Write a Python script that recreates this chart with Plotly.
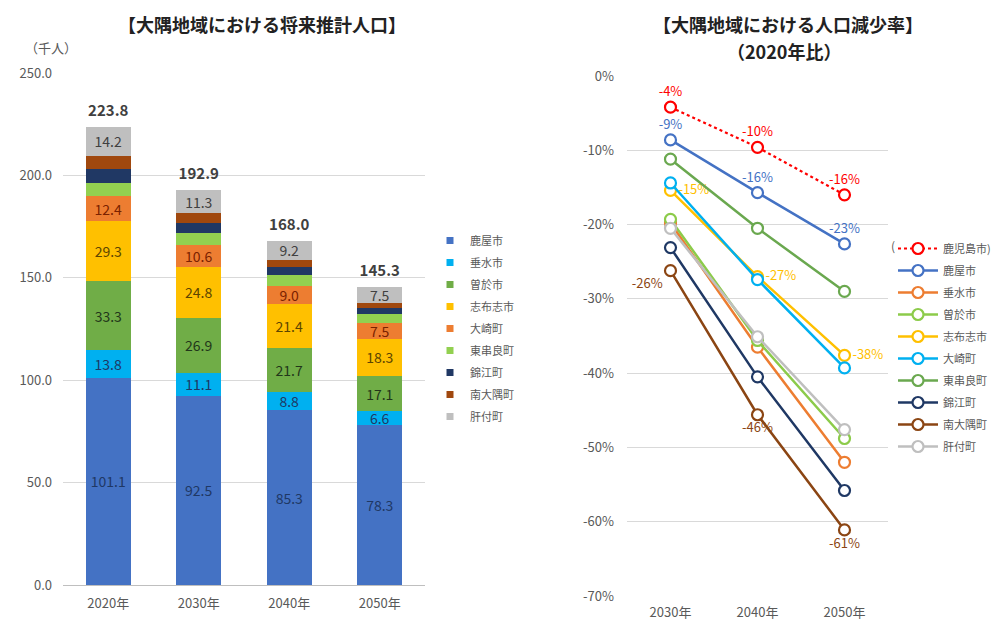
import plotly.graph_objects as go

W, H = 1007, 620
OFF = 8                      # default page margin around the plot div
FW, FH = W - OFF, H - OFF
FONT = "Noto Sans CJK JP"
GRID = "#d9d9d9"
TICK = "#595959"

# left chart: projected population (thousand persons)
years = ["2020年", "2030年", "2040年", "2050年"]
towns = ["鹿屋市", "垂水市", "曽於市", "志布志市", "大崎町", "東串良町", "錦江町", "南大隅町", "肝付町"]
kanoya = [101.1, 92.5, 85.3, 78.3]
tarumizu = [13.8, 11.1, 8.8, 6.6]
soo = [33.3, 26.9, 21.7, 17.1]
shibushi = [29.3, 24.8, 21.4, 18.3]
osaki = [12.4, 10.6, 9.0, 7.5]
higashikushira = [6.5, 5.8, 5.2, 4.5]
kinko = [6.8, 5.2, 3.9, 3.0]
minamiosumi = [6.4, 4.7, 3.5, 2.5]
kimotsuki = [14.2, 11.3, 9.2, 7.5]
totals = [223.8, 192.9, 168.0, 145.3]
y_ticks = [0, 50, 100, 150, 200, 250]

# right chart: decline rate vs 2020 (%)
rate_years = ["2030年", "2040年", "2050年"]
rate_names = ["鹿児島市", "鹿屋市", "垂水市", "曽於市", "志布志市", "大崎町", "東串良町", "錦江町", "南大隅町", "肝付町"]
r_kagoshima = [-4.2, -9.6, -16.0]
r_kanoya = [-8.6, -15.7, -22.6]
r_tarumizu = [-19.8, -36.5, -52.0]
r_soo = [-19.3, -35.6, -48.8]
r_shibushi = [-15.4, -27.0, -37.6]
r_osaki = [-14.4, -27.4, -39.3]
r_higashikushira = [-11.2, -20.5, -29.0]
r_kinko = [-23.1, -40.5, -55.8]
r_minamiosumi = [-26.2, -45.6, -61.1]
r_kimotsuki = [-20.5, -35.1, -47.6]
rate_ticks = [0, -10, -20, -30, -40, -50, -60, -70]

bar_series = [kanoya, tarumizu, soo, shibushi, osaki, higashikushira, kinko, minamiosumi, kimotsuki]
bar_colors = ["#4472C4", "#00B0F0", "#70AD47", "#FFC000", "#ED7D31", "#92D050", "#203864", "#A0480E", "#BFBFBF"]
label_colors = ["#1F3864", "#1F3864", "#22361a", "#5c4500", "#7a2200", None, None, None, "#404040"]

rate_series = [r_kagoshima, r_kanoya, r_tarumizu, r_soo, r_shibushi, r_osaki,
               r_higashikushira, r_kinko, r_minamiosumi, r_kimotsuki]
line_colors = ["#FF0000", "#4472C4", "#ED7D31", "#8CCB4A", "#FFC000", "#00B0F0",
               "#6AA84F", "#1F3864", "#8B4513", "#BFBFBF"]


def px_x(p):
    return (p - OFF) / FW


def px_y(p):
    return 1 - (p - OFF) / FH


fig = go.Figure()

for name, vals, col, lc in zip(towns, bar_series, bar_colors, label_colors):
    fig.add_trace(go.Bar(
        x=years, y=vals, marker=dict(color=col, line=dict(width=0)),
        text=[f"{v:.1f}" for v in vals] if lc else None,
        textposition="inside" if lc else "none", insidetextanchor="middle",
        textangle=0, textfont=dict(color=lc or "#000", size=14, family=FONT),
        showlegend=False, hoverinfo="skip", xaxis="x", yaxis="y"))
    # small square legend key
    fig.add_trace(go.Scatter(
        x=[None], y=[None], mode="markers", name=name, legend="legend", legendgroup=name,
        marker=dict(symbol="square", size=7, color=col), xaxis="x", yaxis="y"))

# totals above the stacks (invisible marker just lifts the text a little)
fig.add_trace(go.Scatter(
    x=years, y=totals, mode="markers+text", text=[f"{t:.1f}" for t in totals],
    marker=dict(size=10, color="rgba(0,0,0,0)"),
    textposition="top center", textfont=dict(size=15, color="#404040", family=FONT, weight="bold"),
    showlegend=False, hoverinfo="skip", xaxis="x", yaxis="y", cliponaxis=False))

# label positions for the right chart
label_pos = {
    "鹿児島市": ["top center"] * 3,
    "鹿屋市": ["top center"] * 3,
    "志布志市": ["middle right"] * 3,
    "南大隅町": ["bottom left", "bottom center", "bottom center"],
}

for name, vals, col in zip(rate_names, rate_series, line_colors):
    pos = label_pos.get(name)
    shown = name + ")" if name == "鹿児島市" else name
    fig.add_trace(go.Scatter(
        x=rate_years, y=vals, mode="lines+markers+text" if pos else "lines+markers",
        name=shown, legend="legend2", legendgroup="r" + name,
        line=dict(color=col, width=2.5 if name != "鹿児島市" else 2.2,
                  dash="dot" if name == "鹿児島市" else "solid"),
        marker=dict(symbol="circle", size=11, color="white", line=dict(color=col, width=2.2)),
        text=[f"{round(v)}%" for v in vals] if pos else None,
        textposition=pos, textfont=dict(size=13, color=col, family=FONT),
        hoverinfo="skip", xaxis="x2", yaxis="y2", cliponaxis=False))

fig.update_layout(
    width=FW, height=FH, margin=dict(l=0, r=0, t=0, b=0, autoexpand=False),
    paper_bgcolor="white", plot_bgcolor="white",
    font=dict(family=FONT, size=13, color=TICK),
    barmode="stack", bargap=0.5,
    uniformtext=dict(minsize=14, mode="show"),
    xaxis=dict(domain=[px_x(63), px_x(425)], showgrid=False, showline=True, linecolor="#bfbfbf",
               tickfont=dict(size=13, color=TICK), ticks="", automargin=False,
               ticklabelstandoff=6),
    yaxis=dict(domain=[px_y(585), px_y(73)], range=[0, 250], tickvals=y_ticks, tickformat=".1f",
               showgrid=True, gridcolor=GRID, zeroline=False, ticks="", automargin=False,
               tickfont=dict(size=13, color=TICK), ticklabelstandoff=10),
    xaxis2=dict(domain=[px_x(627), px_x(888)], anchor="y2", range=[-0.5, 2.5], showgrid=False,
                showline=False, tickfont=dict(size=13, color=TICK), ticks="", automargin=False,
                ticklabelstandoff=7),
    yaxis2=dict(domain=[px_y(596), px_y(76)], anchor="x2", range=[-70, 0], tickvals=rate_ticks,
                ticktext=[f"{t}%" for t in rate_ticks], showgrid=True, gridcolor=GRID,
                zeroline=False, ticks="", tickfont=dict(size=13, color=TICK),
                ticklabelstandoff=12, automargin=False),
    legend=dict(x=px_x(430), y=px_y(226), xanchor="left", yanchor="top",
                traceorder="reversed+grouped", tracegroupgap=3,
                font=dict(size=11, color=TICK), bgcolor="rgba(0,0,0,0)"),
    legend2=dict(x=px_x(893), y=px_y(234), xanchor="left", yanchor="top",
                 traceorder="grouped", tracegroupgap=3, itemwidth=40,
                 font=dict(size=11, color=TICK), bgcolor="rgba(0,0,0,0)"),
    annotations=[
        dict(text="【大隅地域における将来推計人口】", x=px_x(262), y=px_y(24), xref="paper", yref="paper",
             xanchor="center", yanchor="middle", showarrow=False,
             font=dict(size=18, color="#222", family=FONT, weight="bold")),
        dict(text="【大隅地域における人口減少率】", x=px_x(788), y=px_y(24),
             xref="paper", yref="paper", xanchor="center", yanchor="middle", showarrow=False,
             font=dict(size=18, color="#222", family=FONT, weight="bold")),
        dict(text="（2020年比）", x=px_x(784), y=px_y(51),
             xref="paper", yref="paper", xanchor="center", yanchor="middle", showarrow=False,
             font=dict(size=18, color="#222", family=FONT, weight="bold")),
        dict(text="（千人）", x=px_x(51), y=px_y(47), xref="paper", yref="paper",
             xanchor="center", yanchor="middle", showarrow=False, font=dict(size=13, color=TICK)),
        dict(text="(", x=px_x(897), y=px_y(246), xref="paper", yref="paper", xanchor="right",
             yanchor="middle", showarrow=False, font=dict(size=12, color=TICK)),
    ],
)

fig.write_html("out.html")
